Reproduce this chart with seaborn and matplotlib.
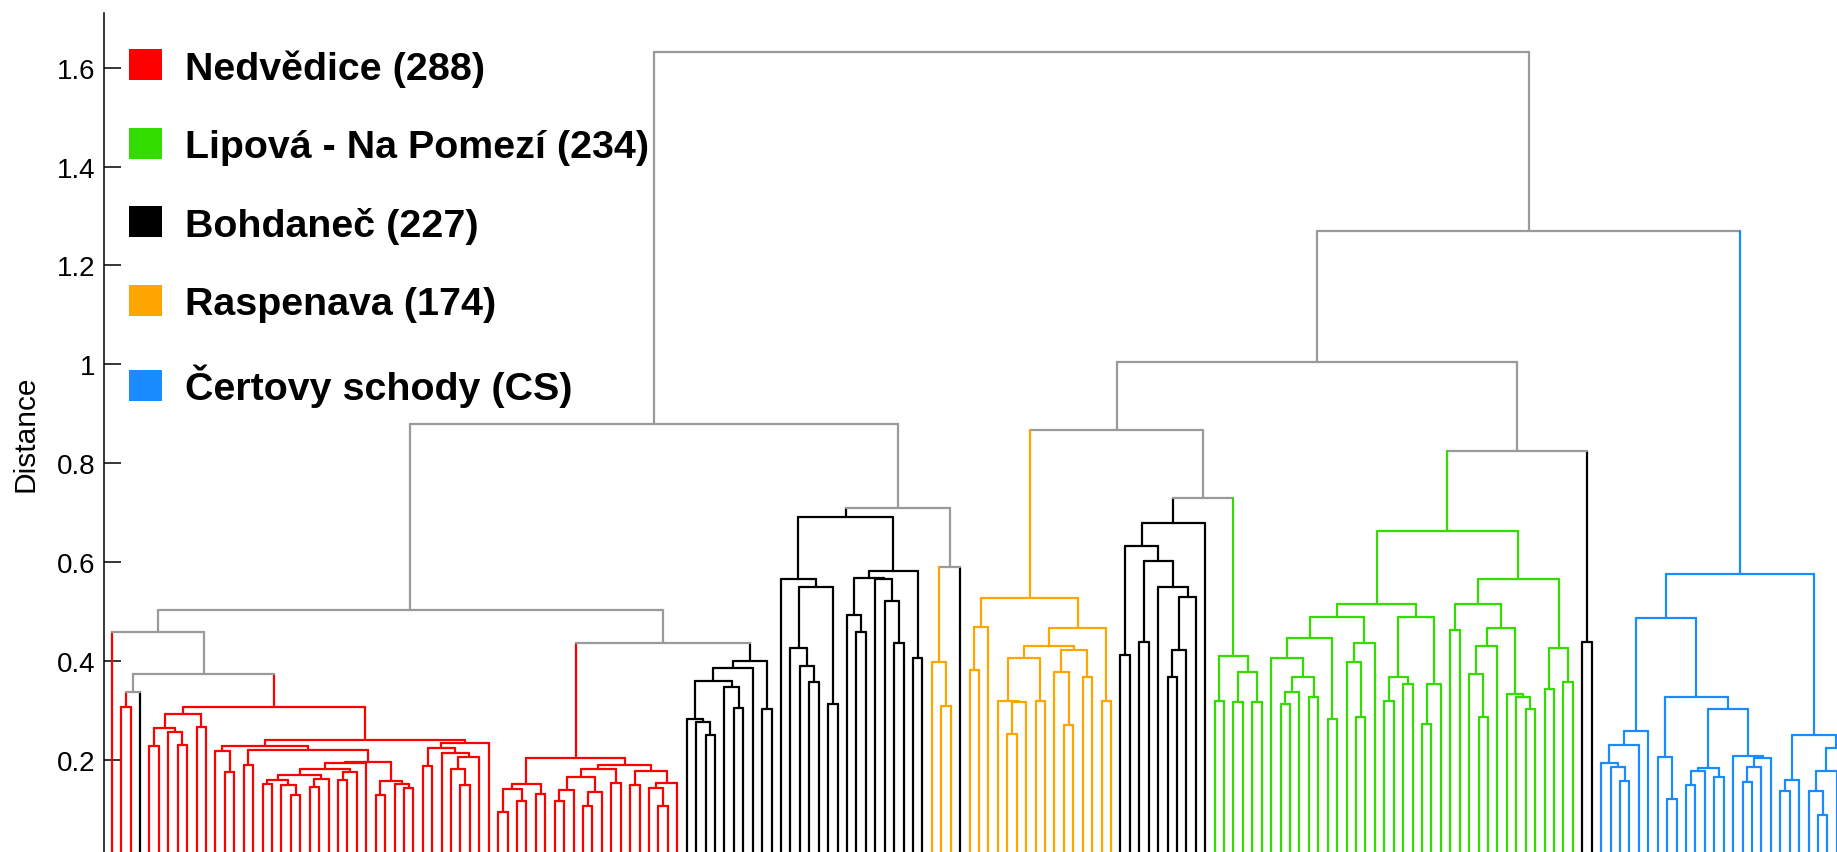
import matplotlib
matplotlib.use("Agg")
import matplotlib.pyplot as plt
from matplotlib.patches import Patch
import seaborn as sns
import pandas as pd

# Populations in the key and their colours
populations = ["Nedvědice (288)", "Lipová - Na Pomezí (234)", "Bohdaneč (227)",
               "Raspenava (174)", "Čertovy schody (CS)"]
codes = ["N", "L", "B", "R", "C"]
colors = ["#ff0000", "#33dd00", "#000000", "#ffa500", "#1a8cff"]
mixed_color = "#9a9a9a"

# Distance axis
ytick_values = [0.2, 0.4, 0.6, 0.8, 1.0, 1.2, 1.4, 1.6]
ytick_labels = ["0.2", "0.4", "0.6", "0.8", "1", "1.2", "1.4", "1.6"]

# Clusters as (merge distance, left, right); leaves are population codes
red_small = (0.293, (0.264, (0.228, "N", "N"), (0.257, "N", (0.231, "N", "N"))), (0.267, "N", "N"))
red_d1 = (0.195, (0.182, (0.170, (0.160, (0.152, "N", "N"), (0.150, "N", (0.130, "N", "N"))),
                          (0.162, (0.145, "N", "N"), "N")),
                  (0.175, (0.160, "N", "N"), "N")), "N")
red_d2 = (0.157, (0.130, "N", "N"), (0.151, "N", (0.144, "N", "N")))
red_a = (0.228, (0.218, "N", (0.175, "N", "N")), (0.221, (0.190, "N", "N"), (0.197, red_d1, red_d2)))
red_b = (0.2345, (0.225, (0.188, "N", "N"), (0.214, "N", (0.207, (0.183, "N", (0.150, "N", "N")), "N"))), "N")
red_main = (0.307, red_small, (0.241, red_a, red_b))
red_second = (0.205, (0.152, (0.142, (0.095, "N", "N"), (0.118, "N", "N")), (0.131, "N", "N")),
              (0.191, (0.181, (0.166, (0.14, (0.118, "N", "N"), "N"), (0.136, (0.107, "N", "N"), "N")),
                       (0.153, "N", "N")),
               (0.177, (0.150, "N", "N"), (0.153, (0.143, "N", (0.107, "N", "N")), "N"))))
black_a = (0.400, (0.386, (0.360, (0.284, "B", (0.277, "B", (0.251, "B", "B"))),
                           (0.347, "B", (0.305, "B", "B"))), "B"), (0.303, "B", "B"))
black_b = (0.692, (0.567, "B", (0.549, (0.426, "B", (0.390, "B", (0.357, "B", "B"))), (0.313, "B", "B"))),
           (0.583, (0.569, (0.493, "B", (0.459, "B", "B")), (0.566, "B", (0.522, "B", (0.437, "B", "B")))),
            (0.406, "B", "B")))
orange_small = (0.398, "R", (0.310, "R", "R"))
orange_main = (0.527, (0.470, (0.382, "R", "R"), "R"),
               (0.467, (0.431, (0.406, (0.32, "R", (0.317, (0.252, "R", "R"), "R")), (0.319, "R", "R")),
                        (0.423, (0.379, "R", (0.270, "R", "R")), (0.369, "R", "R"))),
                (0.32, "R", "R")))
black_c = (0.679, (0.632, (0.413, "B", "B"),
                   (0.603, (0.439, "B", "B"), (0.549, "B", (0.529, (0.423, (0.369, "B", "B"), "B"), "B")))), "B")
green_small = (0.41, (0.32, "L", "L"), (0.379, (0.317, "L", "L"), (0.317, "L", "L")))
green_main = (0.6625,
              (0.516, (0.490, (0.446, (0.406, "L", (0.369, (0.337, (0.314, "L", "L"), "L"), (0.327, "L", "L"))),
                               (0.284, "L", "L")),
                       (0.437, (0.399, "L", (0.288, "L", "L")), "L")),
               (0.490, (0.369, (0.32, "L", "L"), (0.353, "L", "L")), (0.353, (0.273, "L", "L"), "L"))),
              (0.566, (0.516, (0.463, "L", "L"),
                       (0.467, (0.430, (0.374, "L", (0.288, "L", "L")), "L"),
                        (0.334, "L", (0.327, "L", (0.303, "L", "L"))))),
               (0.426, (0.344, "L", "L"), (0.357, "L", "L"))))
black_pair = (0.439, "B", "B")
blue_main = (0.576,
             (0.487, (0.258, (0.231, (0.194, "C", (0.187, "C", (0.158, "C", "C"))), "C"), "C"),
              (0.327, (0.207, "C", (0.122, "C", "C")),
               (0.303, (0.184, (0.177, (0.150, "C", "C"), "C"), (0.165, "C", "C")),
                (0.209, "C", (0.204, (0.187, (0.156, "C", "C"), "C"), "C"))))),
             (0.251, (0.160, (0.137, "C", "C"), "C"),
              (0.224, (0.178, (0.137, "C", (0.088, "C", "C")), "C"), "C")))

left_branch = (0.879,
               (0.503, (0.458, "N", (0.374, (0.337, (0.307, "N", "N"), "B"), red_main)),
                (0.437, red_second, black_a)),
               (0.709, black_b, (0.590, orange_small, "B")))
right_branch = (1.27,
                (1.004, (0.867, orange_main, (0.729, black_c, green_small)),
                 (0.824, green_main, black_pair)),
                blue_main)
tree = (1.632, left_branch, right_branch)


def layout(node, counter, rows):
    """Place leaves left to right; return (x, height, group) and collect link segments."""
    if isinstance(node, str):
        x = counter[0]
        counter[0] += 1
        return x, 0.0, node
    h, left, right = node
    xl, hl, gl = layout(left, counter, rows)
    xr, hr, gr = layout(right, counter, rows)
    g = gl if gl == gr else "mix"
    for (xa, xb, ya, yb, grp) in ((xl, xl, hl, h, gl), (xr, xr, hr, h, gr), (xl, xr, h, h, g)):
        seg = len(rows) // 2
        rows.append({"seg": seg, "x": xa, "y": ya, "group": grp})
        rows.append({"seg": seg, "x": xb, "y": yb, "group": grp})
    return (xl + xr) / 2, h, g


rows = []
layout(tree, [0], rows)
links = pd.DataFrame(rows)

palette = dict(zip(codes, colors))
palette["mix"] = mixed_color

sns.set_theme(style="white")
plt.rcParams["font.family"] = ["Liberation Sans", "DejaVu Sans"]
plt.rcParams["text.color"] = "black"

W, H = 1837, 853
fig = plt.figure(figsize=(W / 100, H / 100), dpi=100)
ax = fig.add_axes([103.5 / W, 0, 1 - 103.5 / W, (H - 14) / H])

sns.lineplot(data=links, x="x", y="y", hue="group", units="seg", estimator=None,
             sort=False, palette=palette, legend=False, linewidth=1.6, ax=ax)

ax.set_xlim(-0.87, 183.02)
ax.set_ylim(0.0142, 1.7105)
ax.set_xticks([])
ax.set_xlabel("")
ax.set_yticks(ytick_values, ytick_labels)
ax.tick_params(axis="y", left=True, direction="in", length=12, width=1.1,
               labelsize=20, pad=6, color="black", labelcolor="black")
ax.set_ylabel("Distance", fontsize=21.5, labelpad=12, color="black")
for side in ("top", "right", "bottom"):
    ax.spines[side].set_visible(False)
ax.spines["left"].set_color("black")
ax.spines["left"].set_linewidth(1.1)

handles = [Patch(facecolor=c, edgecolor="none") for c in colors]
ax.legend(handles, populations, loc="upper left",
          bbox_to_anchor=(129 / W, 1 - 50 / H), bbox_transform=fig.transFigure,
          frameon=False, prop={"family": "Liberation Sans", "weight": "bold", "size": 28.4},
          handlelength=0.83, handleheight=0.83, handletextpad=0.6,
          labelspacing=1.05, borderpad=0, borderaxespad=0, labelcolor="black")

fig.savefig("out.png", dpi=100)
